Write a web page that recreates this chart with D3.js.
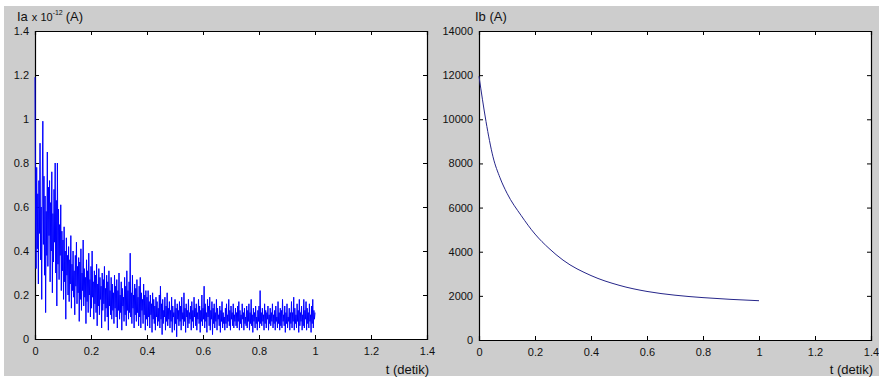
<!DOCTYPE html>
<html>
<head>
<meta charset="utf-8">
<script src="https://cdn.jsdelivr.net/npm/d3@7"></script>
<style>
  body { margin: 0; background: #fff; }
  svg text { font-family: "Liberation Sans", Arial, sans-serif; fill: #111; }
</style>
</head>
<body>
<div id="chart"></div>
<script>
// Ia samples (x 1e-12 A), t = 0 .. 1 step 0.002, one row = 0.04 s
const iaValues = [
  1.19, 0.55, 0.32, 0.78, 0.41, 0.66, 0.25, 0.72, 0.48, 0.89, 0.36, 0.60, 0.18, 0.70, 0.99, 0.43, 0.74, 0.29, 0.65, 0.12,
  0.58, 0.38, 0.85, 0.33, 0.69, 0.47, 0.72, 0.26, 0.62, 0.40, 0.76, 0.21, 0.57, 0.35, 0.68, 0.44, 0.80, 0.30, 0.63, 0.15,
  0.80, 0.34, 0.59, 0.27, 0.52, 0.38, 0.61, 0.22, 0.49, 0.31, 0.45, 0.18, 0.51, 0.26, 0.40, 0.09, 0.46, 0.29, 0.38, 0.20,
  0.42, 0.17, 0.36, 0.25, 0.47, 0.14, 0.34, 0.22, 0.40, 0.19, 0.31, 0.11, 0.38, 0.24, 0.44, 0.16, 0.33, 0.21, 0.37, 0.08,
  0.35, 0.18, 0.41, 0.13, 0.30, 0.22, 0.45, 0.15, 0.32, 0.19, 0.28, 0.07, 0.36, 0.17, 0.31, 0.12, 0.39, 0.20, 0.27, 0.10,
  0.33, 0.14, 0.40, 0.19, 0.26, 0.09, 0.31, 0.16, 0.29, 0.12, 0.34, 0.06, 0.25, 0.15, 0.32, 0.11, 0.28, 0.18, 0.24, 0.05,
  0.30, 0.13, 0.27, 0.16, 0.33, 0.08, 0.23, 0.14, 0.29, 0.10, 0.26, 0.04, 0.31, 0.15, 0.22, 0.11, 0.28, 0.09, 0.25, 0.13,
  0.21, 0.07, 0.29, 0.14, 0.24, 0.10, 0.27, 0.05, 0.22, 0.13, 0.30, 0.09, 0.20, 0.12, 0.26, 0.04, 0.23, 0.15, 0.19, 0.08,
  0.28, 0.11, 0.24, 0.06, 0.31, 0.13, 0.22, 0.09, 0.26, 0.12, 0.39, 0.10, 0.21, 0.07, 0.29, 0.14, 0.20, 0.05, 0.25, 0.11,
  0.23, 0.08, 0.27, 0.12, 0.19, 0.06, 0.24, 0.10, 0.28, 0.05, 0.21, 0.13, 0.18, 0.07, 0.25, 0.11, 0.20, 0.04, 0.22, 0.09,
  0.19, 0.06, 0.22, 0.10, 0.17, 0.05, 0.20, 0.11, 0.16, 0.03, 0.21, 0.09, 0.18, 0.07, 0.15, 0.04, 0.19, 0.10, 0.17, 0.06,
  0.14, 0.08, 0.20, 0.05, 0.24, 0.09, 0.16, 0.02, 0.18, 0.07, 0.13, 0.10, 0.19, 0.04, 0.15, 0.08, 0.21, 0.06, 0.14, 0.09,
  0.17, 0.05, 0.13, 0.08, 0.19, 0.03, 0.15, 0.10, 0.12, 0.04, 0.18, 0.07, 0.14, 0.01, 0.16, 0.09, 0.13, 0.06, 0.17, 0.08,
  0.15, 0.04, 0.19, 0.09, 0.12, 0.06, 0.21, 0.08, 0.14, 0.03, 0.16, 0.10, 0.13, 0.05, 0.18, 0.07, 0.12, 0.09, 0.15, 0.04,
  0.17, 0.08, 0.13, 0.05, 0.19, 0.10, 0.14, 0.06, 0.16, 0.04, 0.12, 0.09, 0.18, 0.07, 0.15, 0.03, 0.13, 0.08, 0.20, 0.06,
  0.14, 0.09, 0.24, 0.05, 0.16, 0.08, 0.12, 0.03, 0.18, 0.10, 0.15, 0.06, 0.19, 0.04, 0.13, 0.09, 0.17, 0.02, 0.14, 0.07,
  0.16, 0.05, 0.12, 0.08, 0.18, 0.04, 0.14, 0.09, 0.11, 0.06, 0.15, 0.03, 0.13, 0.08, 0.17, 0.05, 0.12, 0.07, 0.10, 0.04,
  0.14, 0.07, 0.16, 0.05, 0.11, 0.08, 0.18, 0.06, 0.13, 0.04, 0.15, 0.09, 0.12, 0.06, 0.16, 0.05, 0.11, 0.08, 0.14, 0.06,
  0.12, 0.05, 0.15, 0.08, 0.17, 0.04, 0.13, 0.07, 0.11, 0.05, 0.16, 0.09, 0.12, 0.04, 0.14, 0.07, 0.10, 0.06, 0.15, 0.05,
  0.13, 0.08, 0.16, 0.04, 0.12, 0.07, 0.18, 0.06, 0.11, 0.03, 0.14, 0.08, 0.12, 0.05, 0.15, 0.07, 0.10, 0.04, 0.13, 0.08,
  0.15, 0.05, 0.22, 0.07, 0.12, 0.06, 0.14, 0.08, 0.11, 0.04, 0.16, 0.07, 0.13, 0.05, 0.12, 0.09, 0.15, 0.04, 0.11, 0.07,
  0.14, 0.06, 0.12, 0.08, 0.16, 0.05, 0.11, 0.07, 0.13, 0.04, 0.15, 0.08, 0.10, 0.05, 0.17, 0.07, 0.12, 0.04, 0.14, 0.06,
  0.13, 0.05, 0.18, 0.08, 0.11, 0.06, 0.15, 0.03, 0.12, 0.07, 0.16, 0.05, 0.10, 0.08, 0.14, 0.04, 0.12, 0.07, 0.17, 0.05,
  0.12, 0.08, 0.19, 0.04, 0.14, 0.07, 0.11, 0.05, 0.16, 0.08, 0.13, 0.03, 0.18, 0.06, 0.12, 0.08, 0.15, 0.04, 0.11, 0.06,
  0.18, 0.05, 0.13, 0.09, 0.17, 0.04, 0.14, 0.07, 0.12, 0.05, 0.16, 0.08, 0.11, 0.03, 0.15, 0.07, 0.18, 0.05, 0.13, 0.09,
  0.12
];
const iaStep = 0.002;

// Ib (A) read at these times
const ibTimes  = [0, 0.025, 0.05, 0.075, 0.1, 0.15, 0.2, 0.25, 0.3, 0.4, 0.5, 0.6, 0.7, 0.8, 0.9, 1.0];
const ibValues = [11950, 9900, 8300, 7350, 6650, 5650, 4800, 4150, 3620, 2920, 2480, 2200, 2030, 1920, 1840, 1780];

const xTicks = [0, 0.2, 0.4, 0.6, 0.8, 1, 1.2, 1.4];
const iaTicks = [0, 0.2, 0.4, 0.6, 0.8, 1, 1.2, 1.4];
const ibTicks = [0, 2000, 4000, 6000, 8000, 10000, 12000, 14000];

const width = 879, height = 379;

const svg = d3.select('#chart').append('svg')
  .attr('width', width)
  .attr('height', height);

svg.append('rect')
  .attr('x', 4).attr('y', 6)
  .attr('width', width - 4).attr('height', 370)
  .attr('fill', '#cdcdcd');

function drawPanel(box, yMax, yTicks) {
  const x = d3.scaleLinear().domain([0, 1.4]).range([box.left, box.right]);
  const y = d3.scaleLinear().domain([0, yMax]).range([box.bottom, box.top]);

  const g = svg.append('g');
  g.append('rect')
    .attr('x', box.left).attr('y', box.top)
    .attr('width', box.right - box.left).attr('height', box.bottom - box.top)
    .attr('fill', '#fff');

  const tickLen = 4;
  const fmt = d => d3.format('')(d);

  const bottom = g.append('g').attr('transform', `translate(0,${box.bottom})`)
    .call(d3.axisBottom(x).tickValues(xTicks).tickSize(-tickLen).tickPadding(8).tickFormat(fmt));
  const top = g.append('g').attr('transform', `translate(0,${box.top})`)
    .call(d3.axisTop(x).tickValues(xTicks).tickSize(-tickLen).tickFormat(''));
  const left = g.append('g').attr('transform', `translate(${box.left},0)`)
    .call(d3.axisLeft(y).tickValues(yTicks).tickSize(-tickLen).tickPadding(6).tickFormat(fmt));
  const right = g.append('g').attr('transform', `translate(${box.right},0)`)
    .call(d3.axisRight(y).tickValues(yTicks).tickSize(-tickLen).tickFormat(''));

  [bottom, top, left, right].forEach(a => {
    a.selectAll('path').attr('stroke', '#000').attr('stroke-width', 1.2);
    a.selectAll('line').attr('stroke', '#000');
    a.selectAll('text').style('font-size', '11px').attr('fill', '#111');
  });
  return { g, x, y };
}

// left panel: Ia
const pa = drawPanel({ left: 35, right: 427, top: 31, bottom: 339 }, 1.4, iaTicks);
const iaLine = d3.line()
  .x((d, i) => pa.x(i * iaStep))
  .y(d => pa.y(d));
pa.g.append('path')
  .datum(iaValues)
  .attr('d', iaLine)
  .attr('fill', 'none')
  .attr('stroke', '#0000ff')
  .attr('stroke-width', 1);

// right panel: Ib
const pb = drawPanel({ left: 479, right: 871, top: 31, bottom: 340 }, 14000, ibTicks);
const ibLine = d3.line()
  .x((d, i) => pb.x(ibTimes[i]))
  .y(d => pb.y(d))
  .curve(d3.curveMonotoneX);
pb.g.append('path')
  .datum(ibValues)
  .attr('d', ibLine)
  .attr('fill', 'none')
  .attr('stroke', '#26268a')
  .attr('stroke-width', 1);

// axis labels
const lab = svg.append('g');
const ia = lab.append('text').attr('x', 17).attr('y', 21).style('font-size', '13px');
ia.append('tspan').text('Ia');
ia.append('tspan').attr('dx', 4).style('font-size', '11px').text('x 10');
ia.append('tspan').attr('dy', -6).style('font-size', '7px').text('-12');
ia.append('tspan').attr('dy', 6).attr('dx', 3).style('font-size', '13px').text('(A)');

lab.append('text').attr('x', 475).attr('y', 21).style('font-size', '13px').text('Ib (A)');

lab.append('text').attr('x', 429).attr('y', 374).attr('text-anchor', 'end')
  .style('font-size', '13px').text('t (detik)');
lab.append('text').attr('x', 873).attr('y', 374).attr('text-anchor', 'end')
  .style('font-size', '13px').text('t (detik)');
</script>
</body>
</html>
